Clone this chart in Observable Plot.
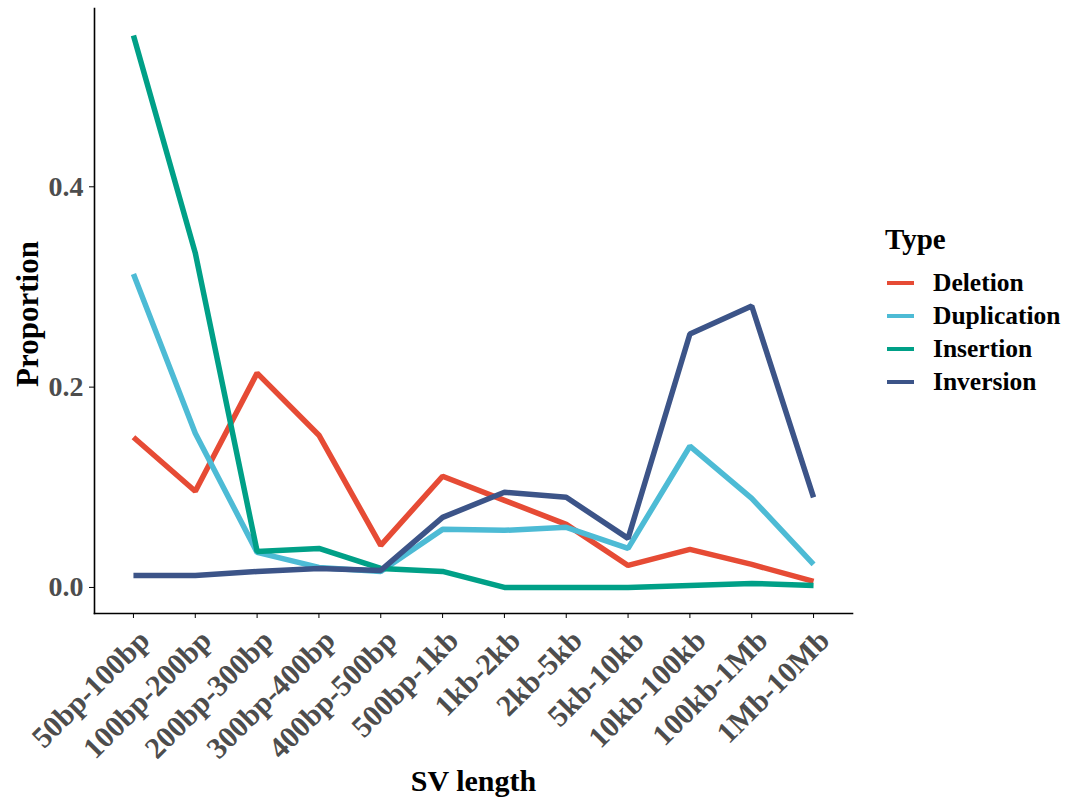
<!DOCTYPE html>
<html>
<head>
<meta charset="utf-8">
<script src="https://cdn.jsdelivr.net/npm/d3@7"></script>
<script src="https://cdn.jsdelivr.net/npm/@observablehq/plot@0.6"></script>
<style>
  html, body { margin: 0; padding: 0; background: #fff; }
  #wrap { position: relative; width: 1070px; height: 805px; font-family: "Liberation Serif", "Times New Roman", serif; }
  #legend { position: absolute; left: 885px; top: 222px; font-weight: bold; color: #000; }
  #legend .title { font-size: 29px; line-height: 34px; margin-bottom: 10px; }
  #legend .item { display: flex; align-items: center; height: 33px; font-size: 25.5px; }
  #legend .key { width: 27px; height: 4px; margin-left: 2px; margin-right: 19px; }
</style>
</head>
<body>
<div id="wrap"><div id="legend"></div></div>
<script>
const categories = ["50bp-100bp","100bp-200bp","200bp-300bp","300bp-400bp","400bp-500bp","500bp-1kb","1kb-2kb","2kb-5kb","5kb-10kb","10kb-100kb","100kb-1Mb","1Mb-10Mb"];
const types = ["Deletion","Duplication","Insertion","Inversion"];
const colors = ["#E64B35","#4DBBD5","#00A087","#3C5488"];
const deletion    = [0.150,0.096,0.214,0.152,0.042,0.111,0.087,0.063,0.022,0.038,0.023,0.006];
const duplication = [0.313,0.154,0.035,0.020,0.016,0.058,0.057,0.060,0.039,0.141,0.089,0.023];
const insertion   = [0.551,0.334,0.036,0.039,0.019,0.016,0.000,0.000,0.000,0.002,0.004,0.002];
const inversion   = [0.012,0.012,0.016,0.019,0.017,0.070,0.095,0.090,0.049,0.253,0.281,0.090];
const yTicks = [0.0, 0.2, 0.4];

const seriesVals = [deletion, duplication, insertion, inversion];
const data = [];
types.forEach((t, i) => categories.forEach((c, j) => data.push({type: t, len: c, value: seriesVals[i][j]})));

const yMin = -0.026, yMax = 0.578;
const chart = Plot.plot({
  width: 1070,
  height: 805,
  marginLeft: 94,
  marginRight: 218,
  marginTop: 8,
  marginBottom: 192,
  style: {fontFamily: "Liberation Serif, Times New Roman, serif", background: "white", overflow: "visible"},
  x: {type: "point", domain: categories, padding: 0.63, round: false, label: null},
  y: {domain: [yMin, yMax], label: null},
  color: {domain: types, range: colors},
  marks: [
    Plot.axisY({ticks: yTicks, tickFormat: d3.format(".1f"), tickSize: 5, tickPadding: 6, fontSize: 28, fontWeight: "bold", fill: "#4D4D4D", label: null}),
    Plot.axisX({tickSize: 5, text: null, label: null}),
    Plot.axisX({tickSize: 0, tickRotate: -45, tickPadding: 22, dx: 11, fontSize: 30, fontWeight: "bold", fill: "#4D4D4D", label: null}),
    Plot.frame({anchor: "left", stroke: "#000", strokeWidth: 1.6}),
    Plot.frame({anchor: "bottom", stroke: "#000", strokeWidth: 1.6}),
    Plot.line(data, {x: "len", y: "value", z: "type", stroke: "type", strokeWidth: 5.5, strokeLinejoin: "miter", strokeLinecap: "butt"}),
    Plot.text(["Proportion"], {frameAnchor: "left", textAnchor: "middle", dx: -66, dy: 3, rotate: -90, fontSize: 31, fontWeight: "bold", fill: "#000"}),
    Plot.text(["SV length"], {frameAnchor: "bottom", dy: 177, fontSize: 30, fontWeight: "bold", fill: "#000"})
  ]
});
document.getElementById("wrap").prepend(chart);
chart.style.position = "absolute"; chart.style.left = "0"; chart.style.top = "0";

const legend = document.getElementById("legend");
legend.innerHTML = `<div class="title">Type</div>` + types.map((t, i) =>
  `<div class="item"><span class="key" style="background:${colors[i]}"></span><span>${t}</span></div>`).join("");
</script>
</body>
</html>
